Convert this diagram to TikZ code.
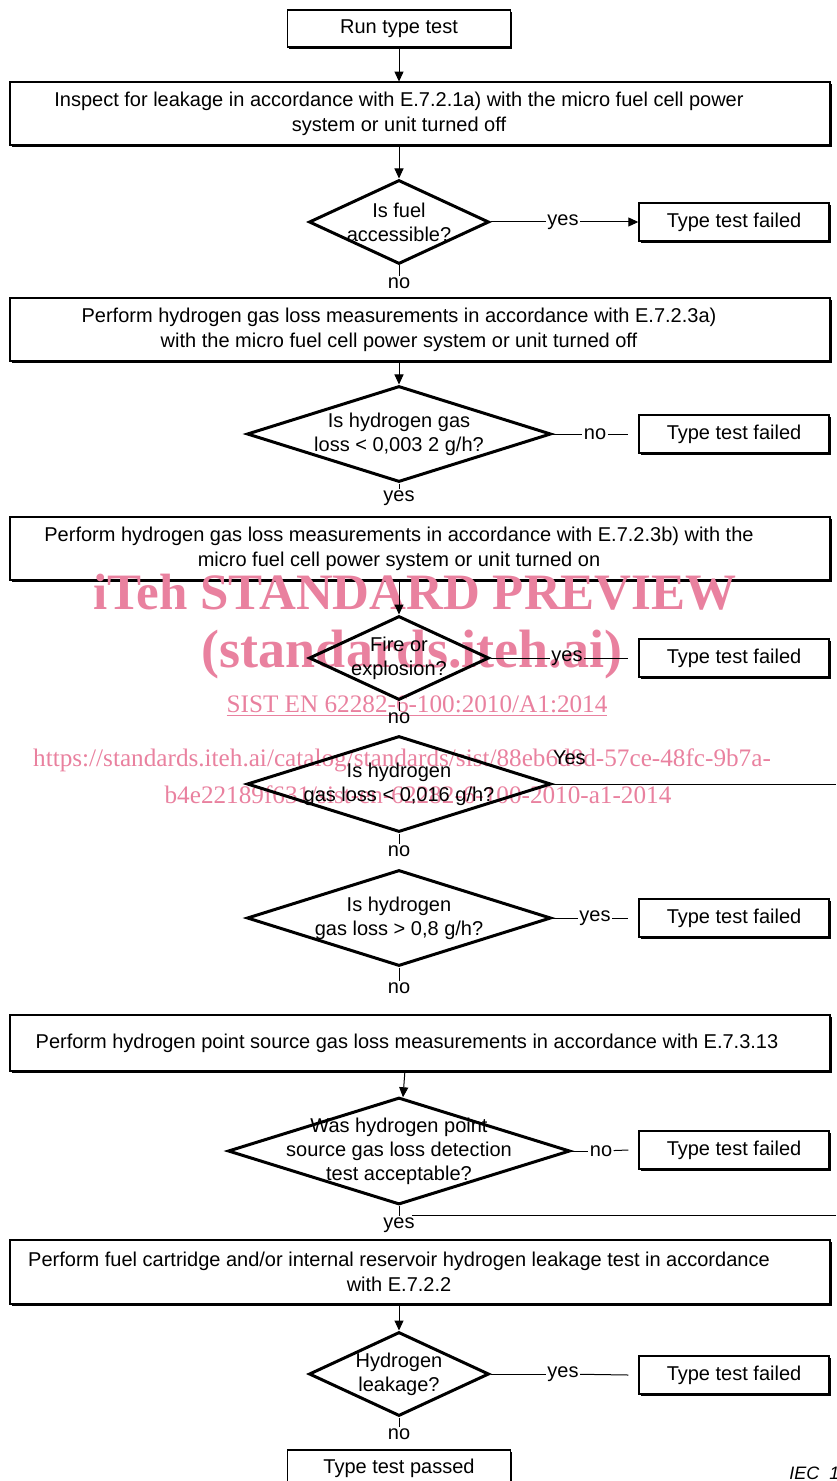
\documentclass[tikz,border=0pt]{standalone}
\usepackage{fontspec}
\setmainfont{Liberation Sans}
\newfontfamily\wmfont{Liberation Serif}
\usetikzlibrary{calc,arrows.meta,shapes.geometric,shadows}
\definecolor{ink}{HTML}{000000}
\definecolor{wm}{HTML}{E9819F}
\tikzset{
  shade/.style={drop shadow={shadow xshift=0.8pt, shadow yshift=-0.8pt, fill=ink, opacity=1}},
  box/.style={draw=ink, line width=0.7pt, fill=white, shade, inner sep=0pt, minimum width=111.5pt, minimum height=18.5pt},
  fail/.style={box, minimum width=95pt, minimum height=19pt},
  frame/.style={draw=ink, line width=0.7pt, fill=white, shade},
  wide/.style={inner sep=0pt, align=center},
  dia/.style 2 args={diamond, draw=ink, line width=1.5pt, line join=miter, inner sep=0pt, minimum width=#1, minimum height=#2},
  dtxt/.style={inner sep=0pt, align=center, font=\fontsize{10}{12}\selectfont},
  lbl/.style={inner sep=0.6pt},
  line/.style={draw=ink, line width=0.5pt},
  arr/.style={line, -{Triangle[width=4.5pt,length=5pt]}},
  wmbig/.style={text=wm, inner sep=0pt, font=\wmfont\bfseries\fontsize{25.5}{28}\selectfont},
  wmsmall/.style={text=wm, inner sep=0pt, font=\wmfont\fontsize{12.6}{14}\selectfont},
}
\begin{document}
\begin{tikzpicture}[x=0.5pt, y=-0.5pt, font=\fontsize{10}{12.5}\selectfont]
  \useasboundingbox (0,0) rectangle (836,1481);
  \foreach \t/\b in {82/145, 298/361, 517/580, 1015/1071, 1240/1304}
    \draw[frame] (10,\t) rectangle (830,\b);

  \node[wmbig] (wm1) at (415,592) {iTeh STANDARD PREVIEW};
  \node[wmbig, font=\wmfont\bfseries\fontsize{27}{30}\selectfont] (wm2) at (412,655) {(standards.iteh.ai)};
  \node[wmsmall] (wm3) at (417,706) {\underline{SIST EN 62282-6-100:2010/A1:2014}};
  \node[wmsmall] (wm4) at (402,760) {https://standards.iteh.ai/catalog/standards/sist/88eb6d8d-57ce-48fc-9b7a-};
  \node[wmsmall] (wm5) at (418,795) {b4e22189f631/sist-en-62282-6-100-2010-a1-2014};

  \node[box] (run) at (399,28.5) {Run type test};
  \node[wide, minimum height=31.5pt] (b2) at (399,113.5)
    {Inspect for leakage in accordance with E.7.2.1a) with the micro fuel cell power\\system or unit turned off};
  \node[wide, minimum height=31.5pt] (b3) at (399,329.5)
    {Perform hydrogen gas loss measurements in accordance with E.7.2.3a)\\with the micro fuel cell power system or unit turned off};
  \node[wide, minimum height=31.5pt] (b4) at (399,548.5)
    {Perform hydrogen gas loss measurements in accordance with E.7.2.3b) with the\\micro fuel cell power system or unit turned on};
  \node[wide, minimum height=28pt] (b6) at (407,1043)
    {Perform hydrogen point source gas loss measurements in accordance with E.7.3.13};
  \node[wide, minimum height=32pt] (b7) at (399,1272)
    {Perform fuel cartridge and/or internal reservoir hydrogen leakage test in accordance\\with E.7.2.2};
  \node[box] (pass) at (399,1468.5) {Type test passed};

  \node[dia={90pt}{42pt}] (d1) at (399,222) {};
  \node[dia={152pt}{48pt}] (d2) at (399,434) {};
  \node[dia={90pt}{42pt}] (d3) at (399,658) {};
  \node[dia={152pt}{48pt}] (d4) at (399,784) {};
  \node[dia={152pt}{48pt}] (d5) at (399,918) {};
  \node[dia={171pt}{53.5pt}] (d6) at (399,1151) {};
  \node[dia={90pt}{42pt}] (d7) at (399,1374) {};
  \node[dtxt] (t1) at (d1) {Is fuel\\accessible?};
  \node[dtxt] (t2) at (d2) {Is hydrogen gas\\loss < 0,003 2 g/h?};
  \node[dtxt] (t3) at (d3) {Fire or\\explosion?};
  \node[dtxt] (t4) at (d4) {Is hydrogen\\gas loss < 0,016 g/h?};
  \node[dtxt] (t5) at (d5) {Is hydrogen\\gas loss > 0,8 g/h?};
  \node[dtxt] (t6) at (d6) {Was hydrogen point\\source gas loss detection\\test acceptable?};
  \node[dtxt] (t7) at (d7) {Hydrogen\\leakage?};

  \foreach \n/\y in {1/222, 2/434, 3/658, 5/918, 6/1150, 7/1375}
    \node[fail] (f\n) at (734,\y) {Type test failed};
  \foreach \n/\x/\y/\t in {1/563/222/yes, 2/595/434/no, 3/567/658/yes, 5/595/918/yes, 6/601/1151/no, 7/563/1374/yes}
    \node[lbl] (s\n) at (\x,\y) {\t};
  \foreach \n/\y/\t in {1/283/no, 2/498/yes, 3/718/no, 4/851/no, 5/988/no, 6/1225/yes, 7/1434/no}
    \node[lbl] (u\n) at (399,\y) {\t};
  \node[font=\itshape\fontsize{9}{11}\selectfont, anchor=west, inner sep=0pt] (iec) at (789,1473) {IEC\ \ 1};

  \coordinate (d4out) at (836,784);
  \coordinate (rin) at (412,1215);
  \coordinate (rout) at (836,1215);

  \draw[arr] (run) -- (b2);
  \foreach \a/\b in {b2/d1, b3/d2, b4/d3, b6/d6, b7/d7}
    \draw[arr] (\a) -- (\b);
  \foreach \n in {1,...,7}
    \draw[line] (d\n.south) -- (u\n);
  \foreach \n in {1,2,3,5,6,7}
    \draw[line] (d\n.east) -- (s\n);
  \draw[arr] (s1) -- (f1);
  \foreach \n in {2,3,5,6,7}
    \draw[line] (s\n) -- ($(f\n.west)+(-5pt,0)$);
  \draw[line] (d4.east) -- node[at start, anchor=base west, inner sep=0pt, yshift=10pt] {Yes} (d4out);
  \draw[line] (rout) -- (rin);
\end{tikzpicture}
\end{document}
